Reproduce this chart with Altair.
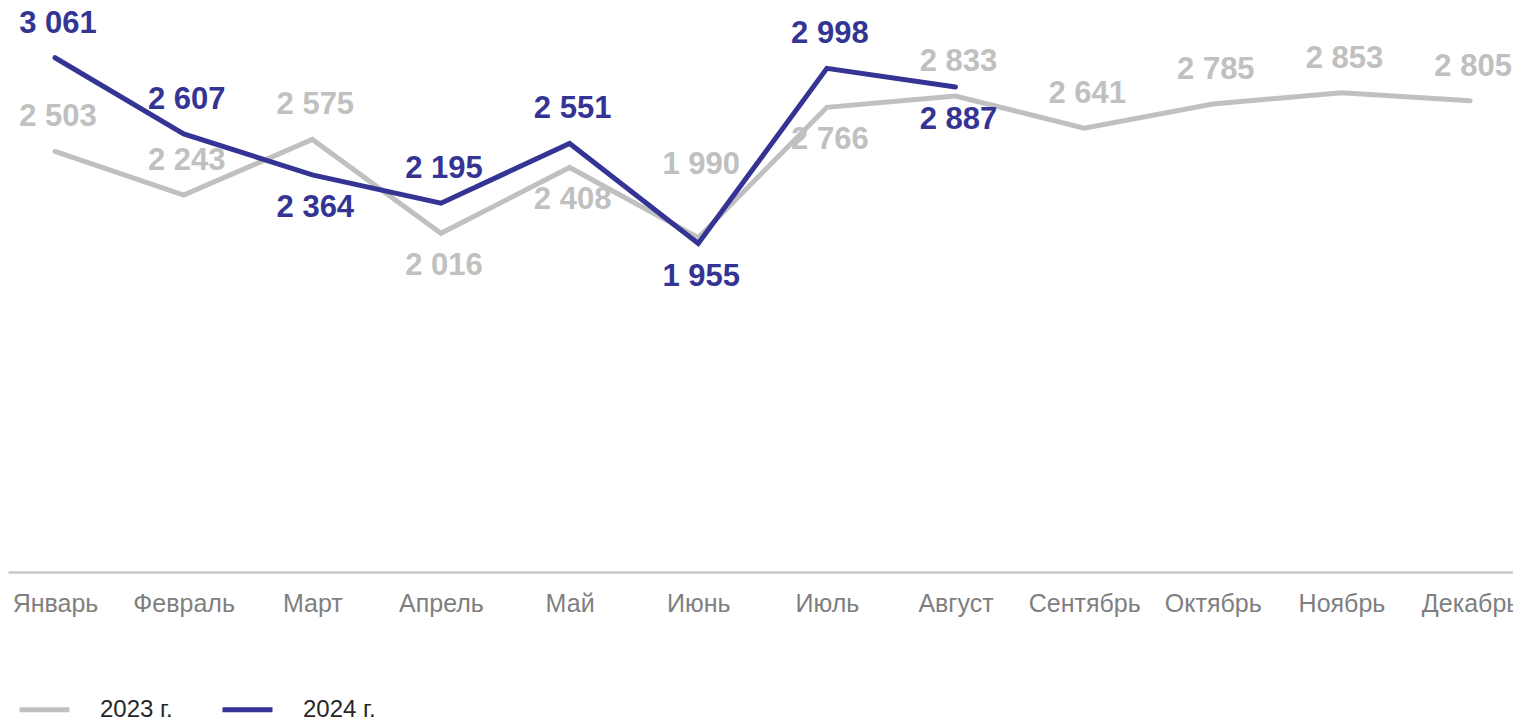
import altair as alt
import pandas as pd

months = ["Январь", "Февраль", "Март", "Апрель", "Май", "Июнь",
          "Июль", "Август", "Сентябрь", "Октябрь", "Ноябрь", "Декабрь"]
values_2023 = [2503, 2243, 2575, 2016, 2408, 1990, 2766, 2833, 2641, 2785, 2853, 2805]
values_2024 = [3061, 2607, 2364, 2195, 2551, 1955, 2998, 2887]
# label placement relative to the point: above / below / high (well above)
side_2023 = ["above", "above", "above", "below", "below", "high",
             "below", "above", "above", "above", "above", "above"]
side_2024 = ["above", "above", "below", "above", "above", "below", "above", "below"]
series = ["2023 г.", "2024 г."]
colors = ["#C0C0C0", "#343494"]

rows = []
for m, v, s in zip(months, values_2023, side_2023):
    rows.append({"month": m, "value": v, "series": series[0], "side": s,
                 "label": f"{v:,}".replace(",", " ")})
for m, v, s in zip(months, values_2024, side_2024):
    rows.append({"month": m, "value": v, "series": series[1], "side": s,
                 "label": f"{v:,}".replace(",", " ")})
df = pd.DataFrame(rows)

x = alt.X("month:N", sort=months, scale=alt.Scale(type="point", padding=0.3495, align=0.523),
          axis=alt.Axis(title=None, labelAngle=0, labelFontSize=25, labelColor="#7F7F7F",
                        labelFont="Liberation Sans", labelPadding=19, ticks=False, tickSize=0,
                        domainColor="#C8C8C8", domainWidth=2.5, grid=False))
y = alt.Y("value:Q", scale=alt.Scale(domain=[0, 3357], nice=False, zero=True), axis=None)
color = alt.Color("series:N", scale=alt.Scale(domain=series, range=colors),
                  legend=alt.Legend(title=None, orient="none", legendX=9, legendY=674,
                                    direction="horizontal", symbolType="stroke",
                                    symbolSize=2500, symbolStrokeWidth=5,
                                    labelFontSize=24, labelColor="#262626",
                                    labelFont="Liberation Sans", labelOffset=28,
                                    columnPadding=39, padding=0))
tcolor = alt.Color("series:N", scale=alt.Scale(domain=series, range=colors), legend=None)

base = alt.Chart(df)
lines = base.mark_line(strokeWidth=5, strokeCap="round", strokeJoin="miter").encode(
    x=x, y=y, color=color, order=alt.Order("series:N"))

text_style = dict(font="Liberation Sans", fontSize=31, fontWeight="bold",
                  baseline="middle", align="center", dx=3)
labels_above = base.transform_filter(alt.datum.side == "above").mark_text(
    dy=-34, **text_style).encode(x=x, y=y, text="label:N", color=tcolor)
labels_high = base.transform_filter(alt.datum.side == "high").mark_text(
    dy=-73, **text_style).encode(x=x, y=y, text="label:N", color=tcolor)
labels_below = base.transform_filter(alt.datum.side == "below").mark_text(
    dy=33, **text_style).encode(x=x, y=y, text="label:N", color=tcolor)

chart = alt.layer(lines, labels_above, labels_high, labels_below).properties(
    width=1505, height=564,
    autosize=alt.AutoSizeParams(type="none"),
    padding={"left": 0, "right": 0, "top": 0, "bottom": 145}
).configure_view(stroke=None, strokeWidth=0)

chart.save("out.html", embed_options={"renderer": "svg", "actions": False})
